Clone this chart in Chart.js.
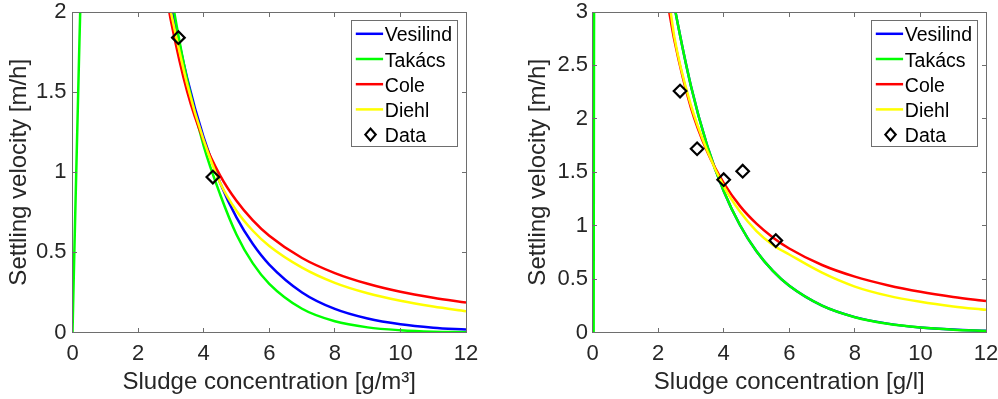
<!DOCTYPE html>
<html>
<head>
<meta charset="utf-8">
<script src="https://cdn.jsdelivr.net/npm/chart.js@4.4.0/dist/chart.umd.min.js"></script>
<style>
  html, body { margin: 0; padding: 0; background: #fff; }
  body { width: 998px; height: 399px; position: relative; overflow: hidden; }
  canvas { position: absolute; top: 0; }
  #left { left: 0; }
  #right { left: 520px; }
</style>
</head>
<body>
<canvas id="left" width="499" height="399"></canvas>
<canvas id="right" width="478" height="399"></canvas>
<script>
// tick labels
const xTicks = [0, 2, 4, 6, 8, 10, 12]
const yTicksLeft = [0, 0.5, 1, 1.5, 2]
const yTicksRight = [0, 0.5, 1, 1.5, 2, 2.5, 3]

const seriesNames = ['Vesilind', 'Takács', 'Cole', 'Diehl', 'Data']
const seriesColors = ['#0000ff', '#00ff00', '#ff0000', '#ffff00', '#000000']

// left panel, concentration in g/m³, velocity in m/h
const concLeft = [2.9, 3, 3.5, 4, 4.5, 5, 5.5, 6, 7, 8, 9, 10, 11, 12]
const vesilindLeft = [2.176, 2.063, 1.585, 1.217, 0.935, 0.718, 0.552, 0.424, 0.250, 0.147, 0.087, 0.051, 0.030, 0.018]
const takacsConcLeft = [0, 0.05, 0.1, 0.15, 0.2, 0.25, 0.4, 2.9, 3, 3.5, 4, 4.5, 5, 5.5, 6, 7, 8, 9, 10, 11, 12]
const takacsLeft = [0, 0.45, 0.88, 1.3, 1.72, 2.12, 3.1, 2.25, 2.12, 1.573, 1.165, 0.863, 0.612, 0.431, 0.304, 0.148, 0.070, 0.032, 0.014, 0.005, 0.002]
const coleLeft = [2.063, 1.947, 1.501, 1.197, 0.981, 0.822, 0.700, 0.604, 0.465, 0.371, 0.304, 0.254, 0.217, 0.187]
const diehlLeft = [2.1, 2.0, 1.547, 1.20, 0.935, 0.76, 0.635, 0.54, 0.405, 0.31, 0.245, 0.198, 0.162, 0.133]
const dataConcLeft = [3.23, 4.28]
const dataVelLeft = [1.84, 0.97]

// right panel, concentration in g/l
const concRight = [2.3, 2.5, 3, 3.5, 4, 4.5, 5, 5.5, 6, 7, 8, 9, 10, 11, 12]
const vesilindRight = [3.40, 3.05, 2.31, 1.748, 1.325, 1.004, 0.760, 0.576, 0.437, 0.251, 0.144, 0.083, 0.047, 0.027, 0.016]
const takacsConcRight = [0.035, 0.04, 0.045, 0.05, 2.3, 2.5, 3, 3.5, 4, 4.5, 5, 5.5, 6, 7, 8, 9, 10, 11, 12]
const takacsRight = [0, 1.4, 2.6, 3.3, 3.40, 3.05, 2.31, 1.748, 1.325, 1.004, 0.760, 0.576, 0.437, 0.251, 0.143, 0.081, 0.046, 0.026, 0.015]
const coleRight = [3.07, 2.73, 2.105, 1.691, 1.40, 1.183, 1.019, 0.890, 0.786, 0.632, 0.523, 0.443, 0.381, 0.333, 0.294]
const diehlRight = [3.2, 2.76, 2.13, 1.70, 1.37, 1.13, 0.95, 0.82, 0.73, 0.56, 0.43, 0.345, 0.287, 0.244, 0.212]
const dataConcRight = [2.67, 3.19, 4.0, 4.58, 5.59]
const dataVelRight = [2.26, 1.72, 1.43, 1.51, 0.86]

const fontFamily = '"Liberation Sans", Arial, Helvetica, sans-serif'

function pts (xs, ys) {
  return xs.map((x, i) => ({ x, y: ys[i] }))
}

function curve (i, xs, ys) {
  return {
    label: seriesNames[i],
    data: pts(xs, ys),
    showLine: true,
    borderColor: seriesColors[i],
    backgroundColor: seriesColors[i],
    borderWidth: 2.5,
    pointRadius: 0,
    cubicInterpolationMode: 'monotone',
    clip: 0,
    order: 4 - i
  }
}

function markers (xs, ys) {
  return {
    label: seriesNames[4],
    data: pts(xs, ys),
    showLine: false,
    pointStyle: 'rectRot',
    pointRadius: 6.3,
    borderWidth: 2.2,
    borderColor: '#000',
    backgroundColor: 'rgba(0,0,0,0)',
    order: 0
  }
}

// matlab-like box with inward ticks, and legend in the upper right corner
const axesBox = {
  id: 'axesBox',
  afterDatasetsDraw (chart) {
    const { ctx, chartArea: a, scales } = chart
    const l = Math.floor(a.left) + 0.5
    const r = Math.floor(a.right) + 0.5
    const t = Math.floor(a.top) + 0.5
    const b = Math.floor(a.bottom) + 0.5
    ctx.save()
    ctx.strokeStyle = '#6e6e6e'
    ctx.lineWidth = 1
    ctx.strokeRect(l, t, r - l, b - t)
    ctx.beginPath()
    scales.x.ticks.forEach(tk => {
      const px = Math.floor(scales.x.getPixelForValue(tk.value)) + 0.5
      ctx.moveTo(px, b); ctx.lineTo(px, b - 4.5)
      ctx.moveTo(px, t); ctx.lineTo(px, t + 4.5)
    })
    scales.y.ticks.forEach(tk => {
      const py = Math.floor(scales.y.getPixelForValue(tk.value)) + 0.5
      ctx.moveTo(l, py); ctx.lineTo(l + 4.5, py)
      ctx.moveTo(r, py); ctx.lineTo(r - 4.5, py)
    })
    ctx.stroke()
    ctx.restore()
  },
  afterDraw (chart) {
    const { ctx, chartArea: a } = chart
    const w = 106
    const h = 126
    const left = Math.floor(a.right - 8.5 - w) + 0.5
    const top = Math.floor(a.top + 8.7) + 0.5
    ctx.save()
    ctx.fillStyle = '#fff'
    ctx.fillRect(left, top, w, h)
    ctx.strokeStyle = '#6e6e6e'
    ctx.lineWidth = 1
    ctx.strokeRect(left, top, w, h)
    ctx.font = '19.5px ' + fontFamily
    ctx.textBaseline = 'alphabetic'
    ctx.textAlign = 'left'
    chart.data.datasets.forEach((ds, i) => {
      const cy = top + 13.3 + i * 25.2
      if (ds.showLine) {
        ctx.strokeStyle = ds.borderColor
        ctx.lineWidth = 2.5
        ctx.beginPath()
        ctx.moveTo(left + 4.3, cy)
        ctx.lineTo(left + 31.6, cy)
        ctx.stroke()
      } else {
        const cx = left + 19
        ctx.strokeStyle = '#000'
        ctx.lineWidth = 2.2
        ctx.beginPath()
        ctx.moveTo(cx - 5.2, cy)
        ctx.lineTo(cx, cy - 6)
        ctx.lineTo(cx + 5.2, cy)
        ctx.lineTo(cx, cy + 6)
        ctx.closePath()
        ctx.stroke()
      }
      ctx.fillStyle = '#000'
      ctx.fillText(ds.label, left + 33.3, cy + 7.5)
    })
    ctx.restore()
  }
}

function makeChart (id, datasets, yMax, yTicks, xTitle, opts) {
  const tickFont = { family: fontFamily, size: 22, lineHeight: 1 }
  const titleFont = { family: fontFamily, size: 24, lineHeight: 1.2 }
  return new Chart(document.getElementById(id), {
    type: 'scatter',
    data: { datasets },
    options: {
      responsive: false,
      animation: false,
      events: [],
      layout: { padding: { left: 0, top: 12, right: opts.padRight, bottom: 0 } },
      plugins: { legend: { display: false }, tooltip: { enabled: false } },
      scales: {
        x: {
          type: 'linear',
          min: 0,
          max: 12,
          grid: { display: false, drawTicks: false },
          border: { display: false },
          ticks: { font: tickFont, color: '#262626', padding: 10.5, maxRotation: 0, autoSkip: false, callback: v => String(v) },
          afterBuildTicks: s => { s.ticks = xTicks.map(v => ({ value: v })) },
          afterFit: s => { s.height = 66.5; s.paddingLeft = 0; s.paddingRight = 0 },
          title: { display: true, text: xTitle, font: titleFont, color: '#262626', padding: { top: 0, bottom: 2.2 } }
        },
        y: {
          type: 'linear',
          min: 0,
          max: yMax,
          grid: { display: false, drawTicks: false },
          border: { display: false },
          ticks: { font: tickFont, color: '#262626', padding: opts.tickPad, autoSkip: false, callback: v => String(v) },
          afterBuildTicks: s => { s.ticks = yTicks.map(v => ({ value: v })) },
          afterFit: s => { s.width = 72.5; s.paddingTop = 0; s.paddingBottom = 0 },
          title: { display: true, text: 'Settling velocity [m/h]', font: titleFont, color: '#262626', padding: { top: opts.titlePad, bottom: 0 } }
        }
      }
    },
    plugins: [axesBox]
  })
}

makeChart('left', [
  curve(0, concLeft, vesilindLeft),
  curve(1, takacsConcLeft, takacsLeft),
  curve(2, concLeft, coleLeft),
  curve(3, concLeft, diehlLeft),
  markers(dataConcLeft, dataVelLeft)
], 2, yTicksLeft, 'Sludge concentration [g/m³]', { padRight: 33, tickPad: 6, titlePad: 4.5 })

makeChart('right', [
  curve(0, concRight, vesilindRight),
  curve(1, takacsConcRight, takacsRight),
  curve(2, concRight, coleRight),
  curve(3, concRight, diehlRight),
  markers(dataConcRight, dataVelRight)
], 3, yTicksRight, 'Sludge concentration [g/l]', { padRight: 12, tickPad: 4.5, titlePad: 3.5 })
</script>
</body>
</html>
